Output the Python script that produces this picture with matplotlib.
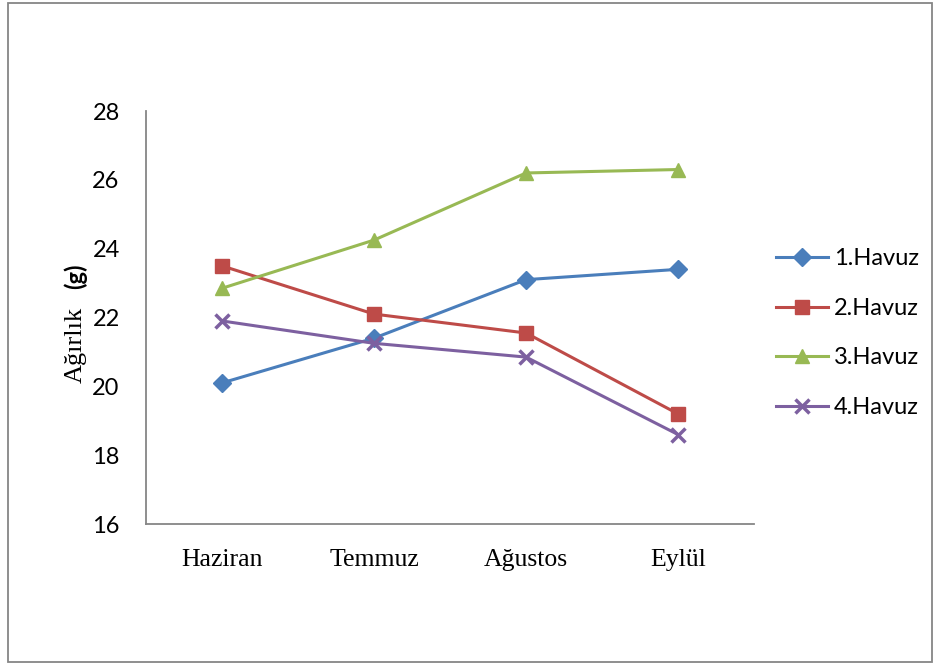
import matplotlib.pyplot as plt
from matplotlib.patches import Rectangle

months = ['Haziran', 'Temmuz', 'Ağustos', 'Eylül']
havuz1 = [20.1, 21.4, 23.1, 23.4]
havuz2 = [23.5, 22.1, 21.55, 19.2]
havuz3 = [22.85, 24.25, 26.2, 26.3]
havuz4 = [21.9, 21.25, 20.85, 18.6]

fig = plt.figure(figsize=(9.41, 6.66), dpi=100)
ax = fig.add_axes([0.1552, 0.2132, 0.6461, 0.6201])

x = range(len(months))
ax.plot(x, havuz1, color='#4a7ebb', marker='D', markersize=9, lw=2.2,
        label='1.Havuz')
ax.plot(x, havuz2, color='#be4b48', marker='s', markersize=10, lw=2.2,
        label='2.Havuz')
ax.plot(x, havuz3, color='#98b954', marker='^', markersize=10, lw=2.2,
        label='3.Havuz')
ax.plot(x, havuz4, color='#7d60a0', marker='x', markersize=10, mew=2.5,
        lw=2.2, label='4.Havuz')

ax.set_xlim(-0.5, 3.5)
ax.set_ylim(16, 28)
ax.set_yticks(range(16, 29, 2))
ax.set_xticks(list(x))
ax.set_xticklabels(months, family='Liberation Serif', fontsize=18.5)
for lbl in ax.get_yticklabels():
    lbl.set_family('Lato')
    lbl.set_fontsize(17)
ax.tick_params(axis='y', length=0, pad=19)
ax.tick_params(axis='x', length=0, pad=18)
for side in ['top', 'right']:
    ax.spines[side].set_visible(False)
for side in ['left', 'bottom']:
    ax.spines[side].set_color('#868686')
    ax.spines[side].set_linewidth(1.3)

fig.text(0.080, 0.482, 'Ağırlık', rotation=90, family='Liberation Serif',
         fontsize=19, ha='center', va='center')
fig.text(0.080, 0.585, '(g)', rotation=90, family='Lato', fontweight='bold',
         fontsize=17, ha='center', va='center')

fig.legend(loc='upper left', bbox_to_anchor=(0.812, 0.645), frameon=False,
           prop={'family': 'Lato', 'size': 17}, labelspacing=1.21,
           handlelength=2.2, handletextpad=0.25, borderpad=0)

fig.patches.append(Rectangle((0.0085, 0.006), 0.982, 0.99, fill=False,
                             edgecolor='#868686', lw=1.3,
                             transform=fig.transFigure, figure=fig))

fig.savefig('out.png', dpi=100)
